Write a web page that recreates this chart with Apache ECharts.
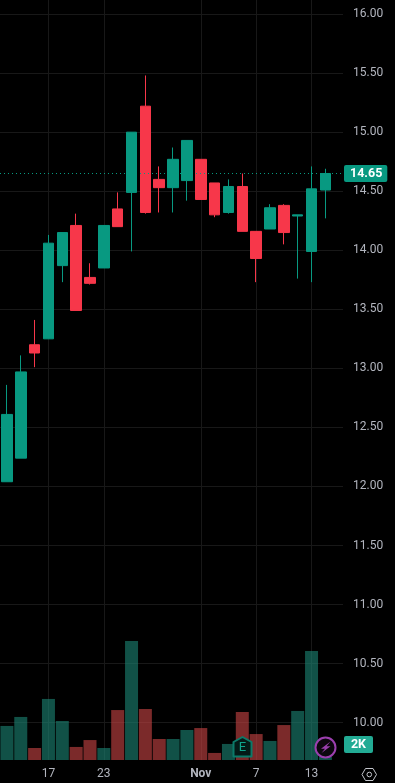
<!DOCTYPE html>
<html>
<head>
<meta charset="utf-8">
<title>Chart</title>
<style>
html, body { margin: 0; padding: 0; background: #000; }
#main { width: 395px; height: 783px; }
</style>
<script src="https://cdn.jsdelivr.net/npm/echarts@6/dist/echarts.min.js"></script>
</head>
<body>
<div id="main"></div>
<script>
var days = ['12','13','16','17','18','19','20','23','24','25','26','27','30','31','Nov','2','3','6','7','8','9','10','13','14'];
var opens = [12.04,12.24,13.20,13.25,13.87,14.21,13.77,13.85,14.35,14.49,15.22,14.60,14.53,14.59,14.77,14.57,14.32,14.54,14.16,14.18,14.38,14.29,13.99,14.51];
var closes = [12.61,12.97,13.13,14.06,14.15,13.49,13.72,14.21,14.20,15.00,14.32,14.53,14.77,14.93,14.43,14.30,14.54,14.16,13.93,14.36,14.15,14.30,14.52,14.65];
var lows = [12.04,12.24,13.01,13.25,13.73,13.49,13.71,13.85,14.20,13.99,14.31,14.32,14.32,14.42,14.43,14.28,14.31,14.16,13.73,14.18,14.05,13.76,13.73,14.27];
var highs = [12.86,13.11,13.41,14.13,14.15,14.31,13.89,14.21,14.49,15.00,15.48,14.71,14.87,14.93,14.77,14.57,14.60,14.65,14.16,14.39,14.39,14.30,14.71,14.69];
var volumes = [22.7,28.7,8,40.7,26,8.7,13.3,8,33.3,79.3,34,14,14,20,21.3,4.7,10.7,32,17.3,12.7,23.3,32.7,72.7,2];
var priceTicks = [10,10.5,11,11.5,12,12.5,13,13.5,14,14.5,15,15.5,16];
var labelledDays = [3,7,14,18,22];
var lastPrice = 14.65;
var lastVolume = '2K';

var green = '#089981';
var red = '#f7374a';
var gridColor = '#181818';
var textColor = '#b2b5be';
var priceMin = 9.684;
var priceMax = 16.119;

var candles = [];
var volumeBars = [];
for (var i = 0; i < days.length; i++) {
	candles.push([opens[i], closes[i], lows[i], highs[i]]);
	volumeBars.push({
		value: volumes[i],
		itemStyle: { color: closes[i] >= opens[i] ? 'rgba(28,130,115,0.62)' : 'rgba(205,70,70,0.6)' }
	});
}

function isLabelled(index) {
	return labelledDays.indexOf(index) >= 0;
}

var myChart = echarts.init(document.getElementById('main'));
var option = {
	backgroundColor: '#000',
	animation: false,
	textStyle: { fontFamily: 'Roboto, sans-serif' },
	grid: [
		{ left: 0, top: 0, width: 343, height: 760 },          // price scale + horizontal lines
		{ left: -0.6, top: 0, width: 332.9, height: 760 },     // candles
		{ left: -0.6, top: 610, width: 332.9, height: 150 }    // volume
	],
	xAxis: [
		{ type: 'value', gridIndex: 0, min: 0, max: 1, show: false },
		{
			type: 'category',
			gridIndex: 1,
			data: days,
			axisLine: { show: false },
			axisTick: { show: false },
			axisLabel: {
				interval: function (index) { return isLabelled(index); },
				color: textColor,
				fontSize: 12,
				margin: 8,
				formatter: function (value) {
					return value === 'Nov' ? '{b|Nov}' : value;
				},
				rich: { b: { fontWeight: 'bold', color: textColor, fontSize: 12 } }
			},
			splitLine: {
				show: true,
				alignWithLabel: true,
				interval: function (index) { return isLabelled(index); },
				lineStyle: { color: gridColor }
			}
		},
		{ type: 'category', gridIndex: 2, data: days, show: false }
	],
	yAxis: [
		{
			type: 'value',
			gridIndex: 0,
			position: 'right',
			min: priceMin,
			max: priceMax,
			axisLine: { show: false },
			axisTick: { show: false, customValues: priceTicks },
			axisLabel: {
				customValues: priceTicks,
				color: textColor,
				fontSize: 12,
				margin: 10,
				padding: [3, 0, 0, 0],
				formatter: function (value) { return value.toFixed(2); }
			},
			splitLine: { show: true, lineStyle: { color: gridColor } }
		},
		{ type: 'value', gridIndex: 1, min: priceMin, max: priceMax, show: false, splitLine: { show: false } },
		{ type: 'value', gridIndex: 2, min: 0, max: 100, show: false, splitLine: { show: false } }
	],
	series: [
		{
			type: 'line',
			xAxisIndex: 0,
			yAxisIndex: 0,
			data: [],
			z: 1,
			silent: true,
			markLine: {
				silent: true,
				symbol: 'none',
				lineStyle: { color: green, type: [1, 3], width: 1, opacity: 1 },
				label: {
					show: true,
					position: 'end',
					distance: 1,
					formatter: function () { return lastPrice.toFixed(2); },
					color: '#fff',
					fontWeight: 'bold',
					fontSize: 12.5,
					backgroundColor: green,
					padding: [2, 5, 2, 6],
					borderRadius: 2
				},
				data: [{ yAxis: lastPrice }]
			}
		},
		{
			type: 'bar',
			xAxisIndex: 2,
			yAxisIndex: 2,
			data: volumeBars,
			barWidth: 13,
			z: 2
		},
		{
			type: 'candlestick',
			xAxisIndex: 1,
			yAxisIndex: 1,
			data: candles,
			barWidth: 11,
			z: 3,
			itemStyle: { color: green, color0: red, borderColor: green, borderColor0: red, borderWidth: 1 }
		}
	],
	graphic: [
		// volume tag
		{ type: 'rect', shape: { x: 344, y: 736, width: 29, height: 17, r: 2 }, style: { fill: '#22ab94' }, z: 10 },
		{ type: 'text', style: { x: 358.5, y: 744.5, text: lastVolume, fill: '#fff', font: 'bold 12.5px Roboto', textAlign: 'center', textVerticalAlign: 'middle' }, z: 11 },
		// earnings badge
		{ type: 'polygon', shape: { points: [[242.5,737],[251.5,742],[251.5,756.5],[233.5,756.5],[233.5,742]] }, style: { fill: '#041a17', stroke: '#0b7a69', lineWidth: 2, lineJoin: 'round' }, z: 10 },
		{ type: 'text', style: { x: 242.5, y: 748, text: 'E', fill: '#0fa58d', font: '13px Roboto', textAlign: 'center', textVerticalAlign: 'middle' }, z: 11 },
		// lightning badge
		{ type: 'circle', shape: { cx: 325.5, cy: 747.5, r: 10 }, style: { fill: '#0c070e', stroke: '#9b3fae', lineWidth: 2 }, z: 10 },
		{ type: 'polygon', shape: { points: [[330.5,741.5],[321,748.8],[325,748.8],[321.5,753],[330.5,746.2],[326.5,746.2]] }, style: { fill: '#9b3fae' }, z: 11 },
		// settings hexagon
		{ type: 'polygon', shape: { points: [[362,774.5],[365.5,768.5],[373,768.5],[376.5,774.5],[373,780.5],[365.5,780.5]] }, style: { fill: 'none', stroke: '#c4c6cc', lineWidth: 1 }, z: 10 },
		{ type: 'circle', shape: { cx: 369.3, cy: 774.5, r: 2.3 }, style: { fill: 'none', stroke: '#c4c6cc', lineWidth: 1 }, z: 10 }
	]
};
myChart.setOption(option);
</script>
</body>
</html>
